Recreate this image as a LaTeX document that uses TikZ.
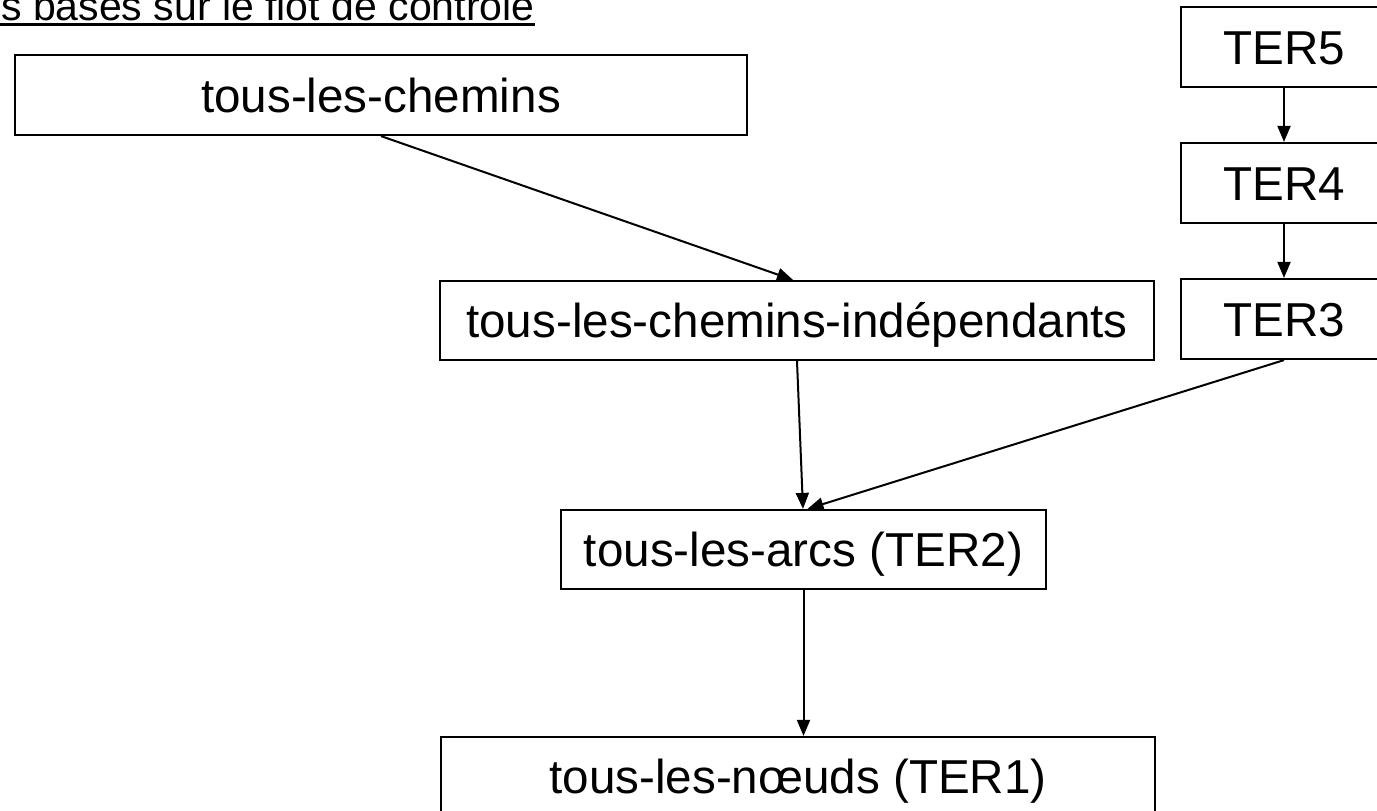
\documentclass[tikz,border=0pt]{standalone}
\usepackage{fontspec}
\setmainfont{Liberation Sans}
\usetikzlibrary{arrows.meta}
\tikzset{
  box/.style={draw, line width=2.2pt, rectangle, inner sep=0pt,
    font=\fontsize{47.6}{57}\selectfont, text height=34.1pt, text depth=0pt},
  arr/.style={draw, line width=2pt, -{Triangle[length=16pt,width=13pt]}},
  titletext/.style={inner sep=0pt, font=\fontsize{41}{49}\selectfont}
}
\begin{document}
\begin{tikzpicture}[x=1pt,y=-1pt]
\path[use as bounding box] (0,0) rectangle (1377,811);
\clip (0,0) rectangle (1377,811);
\fill[white] (0,0) rectangle (1377,811);

\node[titletext, anchor=base west] (title) at (1,20) {s basés sur le flot de contrôle};
\coordinate (ul) at (0,24.5);
\draw[line width=2.2pt] (ul) -- (ul -| title.east);

\node[box, minimum width=732pt, minimum height=80pt] (chem) at (381,95) {tous-les-chemins};
\node[box, minimum width=206pt, minimum height=80pt] (ter5) at (1284,47) {TER5};
\node[box, minimum width=206pt, minimum height=80pt] (ter4) at (1284,183) {TER4};
\node[box, minimum width=206pt, minimum height=80pt] (ter3) at (1284,319) {TER3};
\node[box, minimum width=714pt, minimum height=79pt] (indep) at (797,320.5) {tous-les-chemins-indépendants};
\node[box, minimum width=485pt, minimum height=79pt] (arcs) at (803.5,549.5) {tous-les-arcs (TER2)};
\node[box, minimum width=714pt, minimum height=79pt] (noeuds) at (798,776.5) {tous-les-nœuds (TER1)};

\draw[arr] (chem.south) -- ([xshift=-4pt]indep.north);
\draw[arr] (indep.south) -- ([xshift=-0.5pt]arcs.north);
\draw[arr] (ter3.south) -- ([xshift=4pt]arcs.north);
\draw[arr] (arcs.south) -- (arcs.south |- noeuds.north);
\draw[arr] (ter5.south) -- (ter4.north);
\draw[arr] (ter4.south) -- (ter3.north);
\end{tikzpicture}
\end{document}
